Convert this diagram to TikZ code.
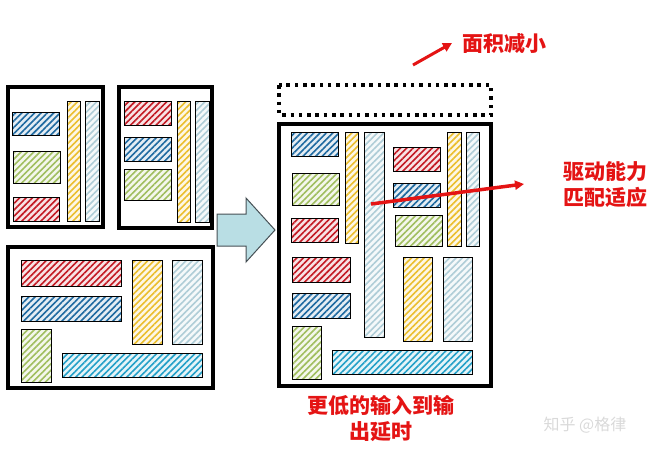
\documentclass[tikz,border=0pt]{standalone}
\usepackage{fontspec}
\newfontfamily\cjk{Noto Sans CJK SC}
\usetikzlibrary{patterns.meta,arrows.meta}

\definecolor{sblue}{RGB}{30,105,160}
\definecolor{sred}{RGB}{195,25,35}
\definecolor{sgreen}{RGB}{160,190,95}
\definecolor{syellow}{RGB}{235,190,45}
\definecolor{slight}{RGB}{175,205,215}
\definecolor{scyan}{RGB}{35,160,200}
\definecolor{arrowfill}{RGB}{185,222,228}
\definecolor{arrowline}{RGB}{70,80,85}
\definecolor{txtred}{RGB}{228,20,20}

\tikzset{
	hatch/.style={draw=black, line width=0.8pt,
		preaction={fill=#1!12},
		preaction={pattern={Lines[angle=45,distance=4.5pt,line width=1.6pt]}, pattern color=#1}},
	hblue/.style={hatch=sblue},
	hred/.style={hatch=sred},
	hgreen/.style={hatch=sgreen},
	hyellow/.style={hatch=syellow},
	hlight/.style={hatch=slight},
	hcyan/.style={hatch=scyan},
	frame/.style={line width=4pt},
	redtxt/.style={text=txtred, font=\cjk\bfseries\fontsize{21}{26}\selectfont, align=center, inner sep=0pt},
	redarrow/.style={draw=txtred, -{Triangle[length=9pt,width=9pt]}},
}

\begin{document}
\begin{tikzpicture}[x=1pt, y=-1pt]
		%%%%% START %%%%%
		\useasboundingbox (0,0) rectangle (655,453);
		
		% left top block 1
		\draw[frame] (8,87) rectangle (103,227);
		\draw[hblue] (12,112) rectangle (59,135);
		\draw[hgreen] (13,151) rectangle (60,183);
		\draw[hred] (13,197) rectangle (59,221);
		\draw[hyellow] (67,101) rectangle (80,221);
		\draw[hlight] (85,101) rectangle (99,221);
		
		% left top block 2
		\draw[frame] (119,87) rectangle (212,228);
		\draw[hred] (124,101) rectangle (171,125);
		\draw[hblue] (124,137) rectangle (171,161);
		\draw[hgreen] (124,169) rectangle (171,200);
		\draw[hyellow] (177,101) rectangle (190,222);
		\draw[hlight] (195,101) rectangle (209,222);
		
		% left bottom block
		\draw[frame] (8,247) rectangle (213,388);
		\draw[hred] (21,260) rectangle (121,286);
		\draw[hblue] (21,296) rectangle (121,321);
		\draw[hgreen] (21,329) rectangle (51,382);
		\draw[hyellow] (132,260) rectangle (162,344);
		\draw[hlight] (172,260) rectangle (202,344);
		\draw[hcyan] (62,353) rectangle (202,377);
		
		% block arrow
		\draw[fill=arrowfill, draw=arrowline, line width=1pt] (217,214) -- (246,214) -- (246,198)
			-- (275,230) -- (246,262) -- (246,246) -- (217,246) -- cycle;
		
		% merged block
		\draw[line width=3.5pt, dash pattern=on 3.5pt off 4.8pt] (279,85) rectangle (491,115);
		\draw[frame] (279,124) rectangle (491,386);
		\draw[hblue] (291,132) rectangle (338,156);
		\draw[hgreen] (292,173) rectangle (339,205);
		\draw[hred] (291,218) rectangle (338,242);
		\draw[hyellow] (345,132) rectangle (358,243);
		\draw[hlight] (364,132) rectangle (384,337);
		\draw[hred] (393,147) rectangle (440,171);
		\draw[hblue] (393,183) rectangle (440,207);
		\draw[hgreen] (395,215) rectangle (442,246);
		\draw[hyellow] (447,132) rectangle (461,246);
		\draw[hlight] (466,132) rectangle (479,246);
		\draw[hred] (292,257) rectangle (350,282);
		\draw[hblue] (292,293) rectangle (350,318);
		\draw[hgreen] (292,326) rectangle (321,379);
		\draw[hyellow] (403,257) rectangle (432,341);
		\draw[hlight] (443,257) rectangle (472,341);
		\draw[hcyan] (332,350) rectangle (472,374);
		
		% labels
		\node[redtxt] (area) at (504,44) {面积减小};
		\node[redtxt] (drive) at (605,185) {驱动能力\\匹配适应};
		\node[redtxt] (delay) at (381,419) {更低的输入到输\\出延时};
		\node[text=black!15, font=\cjk\fontsize{16}{18}\selectfont, inner sep=0pt] (mark) at (585,425) {知乎 @格律};
		
		% red arrows
		\coordinate (areaTail) at (413,65);
		\coordinate (areaTip) at (452,43);
		\draw[redarrow, line width=3pt] (areaTail) -- (areaTip);
		\coordinate (driveTail) at (371,204);
		\coordinate (driveTip) at (524,184);
		\draw[redarrow, line width=3.5pt] (driveTail) -- (driveTip);
		
		%%%%% END %%%%%
	\end{tikzpicture}
\end{document}
